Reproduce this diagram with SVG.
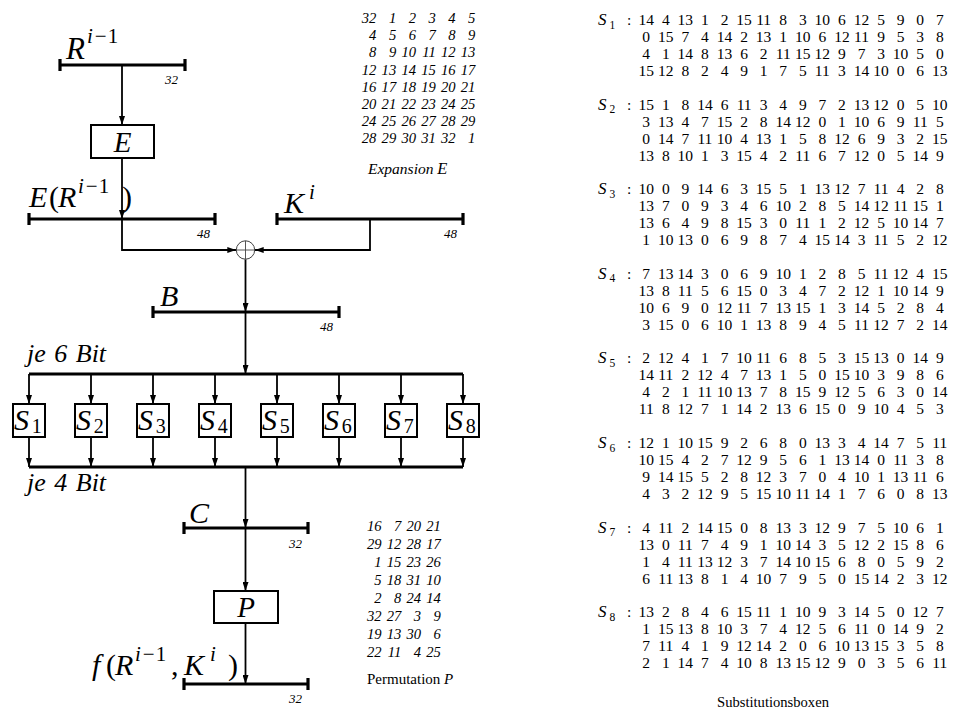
<svg xmlns="http://www.w3.org/2000/svg" width="956" height="711" viewBox="0 0 956 711">
<style>
.bus{stroke:#000;stroke-width:3.2;fill:none}
.ln{stroke:#000;stroke-width:1.8;fill:none}
.box{fill:#fff;stroke:#000;stroke-width:2}
.mi{font-family:"Liberation Serif",serif;font-style:italic}
.mr{font-family:"Liberation Serif",serif;font-style:normal}
.lbl{font-family:"Liberation Serif",serif;font-style:italic;font-size:13px;text-anchor:end}
.sb{font-family:"Liberation Serif",serif;font-size:15.5px;text-anchor:middle}
.tb{font-family:"Liberation Serif",serif;font-style:italic;font-size:14.6px;text-anchor:end}
</style>
<defs>
<marker id="ah" markerUnits="userSpaceOnUse" markerWidth="9" markerHeight="6" viewBox="0 0 9 6" refX="9" refY="3" orient="auto"><path d="M0,0 L9,3 L0,6 z" fill="#000"/></marker>
</defs>
<rect width="956" height="711" fill="#fff"/>

<g id="connectors" class="ln" marker-end="url(#ah)">
<path d="M122,65 V125"/>
<path d="M122,158 V219"/>
<path d="M122,219 V250 H236.3"/>
<path d="M370,219 V250 H254.7"/>
<path d="M245.5,259.2 V312"/>
<path d="M245.5,312 V374"/>
<path d="M29,374 V404"/><path d="M91,374 V404"/><path d="M153,374 V404"/><path d="M215,374 V404"/>
<path d="M277,374 V404"/><path d="M339,374 V404"/><path d="M401,374 V404"/><path d="M463,374 V404"/>
<path d="M29,437 V467"/><path d="M91,437 V467"/><path d="M153,437 V467"/><path d="M215,437 V467"/>
<path d="M277,437 V467"/><path d="M339,437 V467"/><path d="M401,437 V467"/><path d="M463,437 V467"/>
<path d="M245.5,467 V528"/>
<path d="M245.5,528 V591"/>
<path d="M245.5,623 V684"/>
</g>

<g id="bus-R">
<path class="bus" d="M60,65 H185 M60,59 V71 M185,59 V71"/>
<text class="mi" font-size="31" x="66" y="59">R</text>
<text font-size="21" y="43"><tspan class="mi" x="87">i</tspan><tspan class="mr" dx="2">−</tspan><tspan class="mr" dx="1">1</tspan></text>
<text class="lbl" x="178" y="84">32</text>
</g>

<g id="node-E">
<rect class="box" x="91" y="125" width="63" height="33"/>
<text class="mi" font-size="29" x="122.5" y="151.5" text-anchor="middle">E</text>
</g>

<g id="bus-ER">
<path class="bus" d="M29,219 H215 M29,213 V225 M215,213 V225"/>
<text class="mi" font-size="30" x="29" y="207">E</text>
<text class="mr" font-size="30" x="49" y="207">(</text>
<text class="mi" font-size="30" x="58" y="207">R</text>
<text font-size="21" y="193"><tspan class="mi" x="78">i</tspan><tspan class="mr" dx="2">−</tspan><tspan class="mr" dx="1">1</tspan></text>
<text class="mr" font-size="30" x="122" y="207">)</text>
<text class="lbl" x="210" y="238">48</text>
</g>

<g id="bus-K">
<path class="bus" d="M277,219 H463 M277,213 V225 M463,213 V225"/>
<text class="mi" font-size="30" x="284" y="213">K</text>
<text class="mi" font-size="21" x="309" y="199">i</text>
<text class="lbl" x="457" y="238">48</text>
</g>

<g id="node-xor">
<circle cx="245.5" cy="250" r="9.2" fill="#fff" stroke="#444" stroke-width="1"/>
<path d="M236.3,250 H254.7 M245.5,240.8 V259.2" stroke="#444" stroke-width="0.9"/>
</g>

<g id="bus-B">
<path class="bus" d="M153,312 H339 M153,306 V318 M339,306 V318"/>
<text class="mi" font-size="30" x="160" y="306">B</text>
<text class="lbl" x="333" y="331">48</text>
</g>

<g id="bus-6bit">
<path class="bus" d="M29,374 H463"/>
<text class="mi" font-size="26" x="27" y="362" word-spacing="2">je 6 Bit</text>
</g>

<g id="node-S1"><rect class="box" x="13" y="404" width="32" height="33"/><text class="mi" font-size="30" x="14" y="430">S</text><text class="mr" font-size="20" x="31.7" y="433">1</text></g>
<g id="node-S2"><rect class="box" x="75" y="404" width="32" height="33"/><text class="mi" font-size="30" x="76" y="430">S</text><text class="mr" font-size="20" x="93.7" y="433">2</text></g>
<g id="node-S3"><rect class="box" x="137" y="404" width="32" height="33"/><text class="mi" font-size="30" x="138" y="430">S</text><text class="mr" font-size="20" x="155.7" y="433">3</text></g>
<g id="node-S4"><rect class="box" x="199" y="404" width="32" height="33"/><text class="mi" font-size="30" x="200" y="430">S</text><text class="mr" font-size="20" x="217.7" y="433">4</text></g>
<g id="node-S5"><rect class="box" x="261" y="404" width="32" height="33"/><text class="mi" font-size="30" x="262" y="430">S</text><text class="mr" font-size="20" x="279.7" y="433">5</text></g>
<g id="node-S6"><rect class="box" x="323" y="404" width="32" height="33"/><text class="mi" font-size="30" x="324" y="430">S</text><text class="mr" font-size="20" x="341.7" y="433">6</text></g>
<g id="node-S7"><rect class="box" x="385" y="404" width="32" height="33"/><text class="mi" font-size="30" x="386" y="430">S</text><text class="mr" font-size="20" x="403.7" y="433">7</text></g>
<g id="node-S8"><rect class="box" x="447" y="404" width="32" height="33"/><text class="mi" font-size="30" x="448" y="430">S</text><text class="mr" font-size="20" x="465.7" y="433">8</text></g>

<g id="bus-4bit">
<path class="bus" d="M29,467 H463"/>
<text class="mi" font-size="26" x="27" y="491" word-spacing="2">je 4 Bit</text>
</g>

<g id="bus-C">
<path class="bus" d="M184,528 H308 M184,522 V534 M308,522 V534"/>
<text class="mi" font-size="30" x="189" y="523">C</text>
<text class="lbl" x="302" y="548">32</text>
</g>

<g id="node-P">
<rect class="box" x="214" y="591" width="64" height="32"/>
<text class="mi" font-size="29" x="246" y="616.5" text-anchor="middle">P</text>
</g>

<g id="bus-f">
<path class="bus" d="M184,684 H308 M184,678 V690 M308,678 V690"/>
<text class="mi" font-size="30" x="92" y="675">f</text>
<text class="mr" font-size="30" x="106" y="675">(</text>
<text class="mi" font-size="30" x="115" y="675">R</text>
<text font-size="21" y="661"><tspan class="mi" x="135">i</tspan><tspan class="mr" dx="2">−</tspan><tspan class="mr" dx="1">1</tspan></text>
<text class="mr" font-size="30" x="171" y="675">,</text>
<text class="mi" font-size="30" x="184" y="675">K</text>
<text class="mi" font-size="21" x="210" y="661">i</text>
<text class="mr" font-size="30" x="228" y="675">)</text>
<text class="lbl" x="302" y="703">32</text>
</g>

<g id="table-expansion" class="tb">
<text y="23"><tspan x="376.4">32</tspan><tspan x="396.2">1</tspan><tspan x="416">2</tspan><tspan x="435.8">3</tspan><tspan x="455.6">4</tspan><tspan x="475.4">5</tspan></text>
<text y="40.2"><tspan x="376.4">4</tspan><tspan x="396.2">5</tspan><tspan x="416">6</tspan><tspan x="435.8">7</tspan><tspan x="455.6">8</tspan><tspan x="475.4">9</tspan></text>
<text y="57.4"><tspan x="376.4">8</tspan><tspan x="396.2">9</tspan><tspan x="416">10</tspan><tspan x="435.8">11</tspan><tspan x="455.6">12</tspan><tspan x="475.4">13</tspan></text>
<text y="74.6"><tspan x="376.4">12</tspan><tspan x="396.2">13</tspan><tspan x="416">14</tspan><tspan x="435.8">15</tspan><tspan x="455.6">16</tspan><tspan x="475.4">17</tspan></text>
<text y="91.8"><tspan x="376.4">16</tspan><tspan x="396.2">17</tspan><tspan x="416">18</tspan><tspan x="435.8">19</tspan><tspan x="455.6">20</tspan><tspan x="475.4">21</tspan></text>
<text y="109"><tspan x="376.4">20</tspan><tspan x="396.2">21</tspan><tspan x="416">22</tspan><tspan x="435.8">23</tspan><tspan x="455.6">24</tspan><tspan x="475.4">25</tspan></text>
<text y="126.2"><tspan x="376.4">24</tspan><tspan x="396.2">25</tspan><tspan x="416">26</tspan><tspan x="435.8">27</tspan><tspan x="455.6">28</tspan><tspan x="475.4">29</tspan></text>
<text y="143.4"><tspan x="376.4">28</tspan><tspan x="396.2">29</tspan><tspan x="416">30</tspan><tspan x="435.8">31</tspan><tspan x="455.6">32</tspan><tspan x="475.4">1</tspan></text>
<text class="mi" x="368" y="174" font-size="15.5" text-anchor="start">Expansion <tspan font-size="16.5">E</tspan></text>
</g>

<g id="table-permutation" class="tb">
<text y="531"><tspan x="381.5">16</tspan><tspan x="401.3">7</tspan><tspan x="421.1">20</tspan><tspan x="440.9">21</tspan></text>
<text y="549"><tspan x="381.5">29</tspan><tspan x="401.3">12</tspan><tspan x="421.1">28</tspan><tspan x="440.9">17</tspan></text>
<text y="567"><tspan x="381.5">1</tspan><tspan x="401.3">15</tspan><tspan x="421.1">23</tspan><tspan x="440.9">26</tspan></text>
<text y="585"><tspan x="381.5">5</tspan><tspan x="401.3">18</tspan><tspan x="421.1">31</tspan><tspan x="440.9">10</tspan></text>
<text y="603"><tspan x="381.5">2</tspan><tspan x="401.3">8</tspan><tspan x="421.1">24</tspan><tspan x="440.9">14</tspan></text>
<text y="621"><tspan x="381.5">32</tspan><tspan x="401.3">27</tspan><tspan x="421.1">3</tspan><tspan x="440.9">9</tspan></text>
<text y="639"><tspan x="381.5">19</tspan><tspan x="401.3">13</tspan><tspan x="421.1">30</tspan><tspan x="440.9">6</tspan></text>
<text y="657"><tspan x="381.5">22</tspan><tspan x="401.3">11</tspan><tspan x="421.1">4</tspan><tspan x="440.9">25</tspan></text>
<text class="mr" x="367" y="684" font-size="15" text-anchor="start">Permutation <tspan class="mi">P</tspan></text>
</g>

<g id="sbox-1" class="sb">
<text class="mi" x="598" y="25" font-size="17" text-anchor="start">S</text><text x="609.5" y="28.5" font-size="11.5" text-anchor="start">1</text><text x="627" y="25" text-anchor="start">:</text>
<text y="25"><tspan x="646.2">14</tspan><tspan x="665.8">4</tspan><tspan x="685.3">13</tspan><tspan x="704.9">1</tspan><tspan x="724.5">2</tspan><tspan x="744.1">15</tspan><tspan x="763.6">11</tspan><tspan x="783.2">8</tspan><tspan x="802.8">3</tspan><tspan x="822.3">10</tspan><tspan x="841.9">6</tspan><tspan x="861.5">12</tspan><tspan x="881">5</tspan><tspan x="900.6">9</tspan><tspan x="920.2">0</tspan><tspan x="939.8">7</tspan></text>
<text y="42"><tspan x="646.2">0</tspan><tspan x="665.8">15</tspan><tspan x="685.3">7</tspan><tspan x="704.9">4</tspan><tspan x="724.5">14</tspan><tspan x="744.1">2</tspan><tspan x="763.6">13</tspan><tspan x="783.2">1</tspan><tspan x="802.8">10</tspan><tspan x="822.3">6</tspan><tspan x="841.9">12</tspan><tspan x="861.5">11</tspan><tspan x="881">9</tspan><tspan x="900.6">5</tspan><tspan x="920.2">3</tspan><tspan x="939.8">8</tspan></text>
<text y="59"><tspan x="646.2">4</tspan><tspan x="665.8">1</tspan><tspan x="685.3">14</tspan><tspan x="704.9">8</tspan><tspan x="724.5">13</tspan><tspan x="744.1">6</tspan><tspan x="763.6">2</tspan><tspan x="783.2">11</tspan><tspan x="802.8">15</tspan><tspan x="822.3">12</tspan><tspan x="841.9">9</tspan><tspan x="861.5">7</tspan><tspan x="881">3</tspan><tspan x="900.6">10</tspan><tspan x="920.2">5</tspan><tspan x="939.8">0</tspan></text>
<text y="76"><tspan x="646.2">15</tspan><tspan x="665.8">12</tspan><tspan x="685.3">8</tspan><tspan x="704.9">2</tspan><tspan x="724.5">4</tspan><tspan x="744.1">9</tspan><tspan x="763.6">1</tspan><tspan x="783.2">7</tspan><tspan x="802.8">5</tspan><tspan x="822.3">11</tspan><tspan x="841.9">3</tspan><tspan x="861.5">14</tspan><tspan x="881">10</tspan><tspan x="900.6">0</tspan><tspan x="920.2">6</tspan><tspan x="939.8">13</tspan></text>
</g>

<g id="sbox-2" class="sb" transform="translate(0,84.6)">
<text class="mi" x="598" y="25" font-size="17" text-anchor="start">S</text><text x="609.5" y="28.5" font-size="11.5" text-anchor="start">2</text><text x="627" y="25" text-anchor="start">:</text>
<text y="25"><tspan x="646.2">15</tspan><tspan x="665.8">1</tspan><tspan x="685.3">8</tspan><tspan x="704.9">14</tspan><tspan x="724.5">6</tspan><tspan x="744.1">11</tspan><tspan x="763.6">3</tspan><tspan x="783.2">4</tspan><tspan x="802.8">9</tspan><tspan x="822.3">7</tspan><tspan x="841.9">2</tspan><tspan x="861.5">13</tspan><tspan x="881">12</tspan><tspan x="900.6">0</tspan><tspan x="920.2">5</tspan><tspan x="939.8">10</tspan></text>
<text y="42"><tspan x="646.2">3</tspan><tspan x="665.8">13</tspan><tspan x="685.3">4</tspan><tspan x="704.9">7</tspan><tspan x="724.5">15</tspan><tspan x="744.1">2</tspan><tspan x="763.6">8</tspan><tspan x="783.2">14</tspan><tspan x="802.8">12</tspan><tspan x="822.3">0</tspan><tspan x="841.9">1</tspan><tspan x="861.5">10</tspan><tspan x="881">6</tspan><tspan x="900.6">9</tspan><tspan x="920.2">11</tspan><tspan x="939.8">5</tspan></text>
<text y="59"><tspan x="646.2">0</tspan><tspan x="665.8">14</tspan><tspan x="685.3">7</tspan><tspan x="704.9">11</tspan><tspan x="724.5">10</tspan><tspan x="744.1">4</tspan><tspan x="763.6">13</tspan><tspan x="783.2">1</tspan><tspan x="802.8">5</tspan><tspan x="822.3">8</tspan><tspan x="841.9">12</tspan><tspan x="861.5">6</tspan><tspan x="881">9</tspan><tspan x="900.6">3</tspan><tspan x="920.2">2</tspan><tspan x="939.8">15</tspan></text>
<text y="76"><tspan x="646.2">13</tspan><tspan x="665.8">8</tspan><tspan x="685.3">10</tspan><tspan x="704.9">1</tspan><tspan x="724.5">3</tspan><tspan x="744.1">15</tspan><tspan x="763.6">4</tspan><tspan x="783.2">2</tspan><tspan x="802.8">11</tspan><tspan x="822.3">6</tspan><tspan x="841.9">7</tspan><tspan x="861.5">12</tspan><tspan x="881">0</tspan><tspan x="900.6">5</tspan><tspan x="920.2">14</tspan><tspan x="939.8">9</tspan></text>
</g>

<g id="sbox-3" class="sb" transform="translate(0,169.2)">
<text class="mi" x="598" y="25" font-size="17" text-anchor="start">S</text><text x="609.5" y="28.5" font-size="11.5" text-anchor="start">3</text><text x="627" y="25" text-anchor="start">:</text>
<text y="25"><tspan x="646.2">10</tspan><tspan x="665.8">0</tspan><tspan x="685.3">9</tspan><tspan x="704.9">14</tspan><tspan x="724.5">6</tspan><tspan x="744.1">3</tspan><tspan x="763.6">15</tspan><tspan x="783.2">5</tspan><tspan x="802.8">1</tspan><tspan x="822.3">13</tspan><tspan x="841.9">12</tspan><tspan x="861.5">7</tspan><tspan x="881">11</tspan><tspan x="900.6">4</tspan><tspan x="920.2">2</tspan><tspan x="939.8">8</tspan></text>
<text y="42"><tspan x="646.2">13</tspan><tspan x="665.8">7</tspan><tspan x="685.3">0</tspan><tspan x="704.9">9</tspan><tspan x="724.5">3</tspan><tspan x="744.1">4</tspan><tspan x="763.6">6</tspan><tspan x="783.2">10</tspan><tspan x="802.8">2</tspan><tspan x="822.3">8</tspan><tspan x="841.9">5</tspan><tspan x="861.5">14</tspan><tspan x="881">12</tspan><tspan x="900.6">11</tspan><tspan x="920.2">15</tspan><tspan x="939.8">1</tspan></text>
<text y="59"><tspan x="646.2">13</tspan><tspan x="665.8">6</tspan><tspan x="685.3">4</tspan><tspan x="704.9">9</tspan><tspan x="724.5">8</tspan><tspan x="744.1">15</tspan><tspan x="763.6">3</tspan><tspan x="783.2">0</tspan><tspan x="802.8">11</tspan><tspan x="822.3">1</tspan><tspan x="841.9">2</tspan><tspan x="861.5">12</tspan><tspan x="881">5</tspan><tspan x="900.6">10</tspan><tspan x="920.2">14</tspan><tspan x="939.8">7</tspan></text>
<text y="76"><tspan x="646.2">1</tspan><tspan x="665.8">10</tspan><tspan x="685.3">13</tspan><tspan x="704.9">0</tspan><tspan x="724.5">6</tspan><tspan x="744.1">9</tspan><tspan x="763.6">8</tspan><tspan x="783.2">7</tspan><tspan x="802.8">4</tspan><tspan x="822.3">15</tspan><tspan x="841.9">14</tspan><tspan x="861.5">3</tspan><tspan x="881">11</tspan><tspan x="900.6">5</tspan><tspan x="920.2">2</tspan><tspan x="939.8">12</tspan></text>
</g>

<g id="sbox-4" class="sb" transform="translate(0,253.8)">
<text class="mi" x="598" y="25" font-size="17" text-anchor="start">S</text><text x="609.5" y="28.5" font-size="11.5" text-anchor="start">4</text><text x="627" y="25" text-anchor="start">:</text>
<text y="25"><tspan x="646.2">7</tspan><tspan x="665.8">13</tspan><tspan x="685.3">14</tspan><tspan x="704.9">3</tspan><tspan x="724.5">0</tspan><tspan x="744.1">6</tspan><tspan x="763.6">9</tspan><tspan x="783.2">10</tspan><tspan x="802.8">1</tspan><tspan x="822.3">2</tspan><tspan x="841.9">8</tspan><tspan x="861.5">5</tspan><tspan x="881">11</tspan><tspan x="900.6">12</tspan><tspan x="920.2">4</tspan><tspan x="939.8">15</tspan></text>
<text y="42"><tspan x="646.2">13</tspan><tspan x="665.8">8</tspan><tspan x="685.3">11</tspan><tspan x="704.9">5</tspan><tspan x="724.5">6</tspan><tspan x="744.1">15</tspan><tspan x="763.6">0</tspan><tspan x="783.2">3</tspan><tspan x="802.8">4</tspan><tspan x="822.3">7</tspan><tspan x="841.9">2</tspan><tspan x="861.5">12</tspan><tspan x="881">1</tspan><tspan x="900.6">10</tspan><tspan x="920.2">14</tspan><tspan x="939.8">9</tspan></text>
<text y="59"><tspan x="646.2">10</tspan><tspan x="665.8">6</tspan><tspan x="685.3">9</tspan><tspan x="704.9">0</tspan><tspan x="724.5">12</tspan><tspan x="744.1">11</tspan><tspan x="763.6">7</tspan><tspan x="783.2">13</tspan><tspan x="802.8">15</tspan><tspan x="822.3">1</tspan><tspan x="841.9">3</tspan><tspan x="861.5">14</tspan><tspan x="881">5</tspan><tspan x="900.6">2</tspan><tspan x="920.2">8</tspan><tspan x="939.8">4</tspan></text>
<text y="76"><tspan x="646.2">3</tspan><tspan x="665.8">15</tspan><tspan x="685.3">0</tspan><tspan x="704.9">6</tspan><tspan x="724.5">10</tspan><tspan x="744.1">1</tspan><tspan x="763.6">13</tspan><tspan x="783.2">8</tspan><tspan x="802.8">9</tspan><tspan x="822.3">4</tspan><tspan x="841.9">5</tspan><tspan x="861.5">11</tspan><tspan x="881">12</tspan><tspan x="900.6">7</tspan><tspan x="920.2">2</tspan><tspan x="939.8">14</tspan></text>
</g>

<g id="sbox-5" class="sb" transform="translate(0,338.4)">
<text class="mi" x="598" y="25" font-size="17" text-anchor="start">S</text><text x="609.5" y="28.5" font-size="11.5" text-anchor="start">5</text><text x="627" y="25" text-anchor="start">:</text>
<text y="25"><tspan x="646.2">2</tspan><tspan x="665.8">12</tspan><tspan x="685.3">4</tspan><tspan x="704.9">1</tspan><tspan x="724.5">7</tspan><tspan x="744.1">10</tspan><tspan x="763.6">11</tspan><tspan x="783.2">6</tspan><tspan x="802.8">8</tspan><tspan x="822.3">5</tspan><tspan x="841.9">3</tspan><tspan x="861.5">15</tspan><tspan x="881">13</tspan><tspan x="900.6">0</tspan><tspan x="920.2">14</tspan><tspan x="939.8">9</tspan></text>
<text y="42"><tspan x="646.2">14</tspan><tspan x="665.8">11</tspan><tspan x="685.3">2</tspan><tspan x="704.9">12</tspan><tspan x="724.5">4</tspan><tspan x="744.1">7</tspan><tspan x="763.6">13</tspan><tspan x="783.2">1</tspan><tspan x="802.8">5</tspan><tspan x="822.3">0</tspan><tspan x="841.9">15</tspan><tspan x="861.5">10</tspan><tspan x="881">3</tspan><tspan x="900.6">9</tspan><tspan x="920.2">8</tspan><tspan x="939.8">6</tspan></text>
<text y="59"><tspan x="646.2">4</tspan><tspan x="665.8">2</tspan><tspan x="685.3">1</tspan><tspan x="704.9">11</tspan><tspan x="724.5">10</tspan><tspan x="744.1">13</tspan><tspan x="763.6">7</tspan><tspan x="783.2">8</tspan><tspan x="802.8">15</tspan><tspan x="822.3">9</tspan><tspan x="841.9">12</tspan><tspan x="861.5">5</tspan><tspan x="881">6</tspan><tspan x="900.6">3</tspan><tspan x="920.2">0</tspan><tspan x="939.8">14</tspan></text>
<text y="76"><tspan x="646.2">11</tspan><tspan x="665.8">8</tspan><tspan x="685.3">12</tspan><tspan x="704.9">7</tspan><tspan x="724.5">1</tspan><tspan x="744.1">14</tspan><tspan x="763.6">2</tspan><tspan x="783.2">13</tspan><tspan x="802.8">6</tspan><tspan x="822.3">15</tspan><tspan x="841.9">0</tspan><tspan x="861.5">9</tspan><tspan x="881">10</tspan><tspan x="900.6">4</tspan><tspan x="920.2">5</tspan><tspan x="939.8">3</tspan></text>
</g>

<g id="sbox-6" class="sb" transform="translate(0,423)">
<text class="mi" x="598" y="25" font-size="17" text-anchor="start">S</text><text x="609.5" y="28.5" font-size="11.5" text-anchor="start">6</text><text x="627" y="25" text-anchor="start">:</text>
<text y="25"><tspan x="646.2">12</tspan><tspan x="665.8">1</tspan><tspan x="685.3">10</tspan><tspan x="704.9">15</tspan><tspan x="724.5">9</tspan><tspan x="744.1">2</tspan><tspan x="763.6">6</tspan><tspan x="783.2">8</tspan><tspan x="802.8">0</tspan><tspan x="822.3">13</tspan><tspan x="841.9">3</tspan><tspan x="861.5">4</tspan><tspan x="881">14</tspan><tspan x="900.6">7</tspan><tspan x="920.2">5</tspan><tspan x="939.8">11</tspan></text>
<text y="42"><tspan x="646.2">10</tspan><tspan x="665.8">15</tspan><tspan x="685.3">4</tspan><tspan x="704.9">2</tspan><tspan x="724.5">7</tspan><tspan x="744.1">12</tspan><tspan x="763.6">9</tspan><tspan x="783.2">5</tspan><tspan x="802.8">6</tspan><tspan x="822.3">1</tspan><tspan x="841.9">13</tspan><tspan x="861.5">14</tspan><tspan x="881">0</tspan><tspan x="900.6">11</tspan><tspan x="920.2">3</tspan><tspan x="939.8">8</tspan></text>
<text y="59"><tspan x="646.2">9</tspan><tspan x="665.8">14</tspan><tspan x="685.3">15</tspan><tspan x="704.9">5</tspan><tspan x="724.5">2</tspan><tspan x="744.1">8</tspan><tspan x="763.6">12</tspan><tspan x="783.2">3</tspan><tspan x="802.8">7</tspan><tspan x="822.3">0</tspan><tspan x="841.9">4</tspan><tspan x="861.5">10</tspan><tspan x="881">1</tspan><tspan x="900.6">13</tspan><tspan x="920.2">11</tspan><tspan x="939.8">6</tspan></text>
<text y="76"><tspan x="646.2">4</tspan><tspan x="665.8">3</tspan><tspan x="685.3">2</tspan><tspan x="704.9">12</tspan><tspan x="724.5">9</tspan><tspan x="744.1">5</tspan><tspan x="763.6">15</tspan><tspan x="783.2">10</tspan><tspan x="802.8">11</tspan><tspan x="822.3">14</tspan><tspan x="841.9">1</tspan><tspan x="861.5">7</tspan><tspan x="881">6</tspan><tspan x="900.6">0</tspan><tspan x="920.2">8</tspan><tspan x="939.8">13</tspan></text>
</g>

<g id="sbox-7" class="sb" transform="translate(0,507.6)">
<text class="mi" x="598" y="25" font-size="17" text-anchor="start">S</text><text x="609.5" y="28.5" font-size="11.5" text-anchor="start">7</text><text x="627" y="25" text-anchor="start">:</text>
<text y="25"><tspan x="646.2">4</tspan><tspan x="665.8">11</tspan><tspan x="685.3">2</tspan><tspan x="704.9">14</tspan><tspan x="724.5">15</tspan><tspan x="744.1">0</tspan><tspan x="763.6">8</tspan><tspan x="783.2">13</tspan><tspan x="802.8">3</tspan><tspan x="822.3">12</tspan><tspan x="841.9">9</tspan><tspan x="861.5">7</tspan><tspan x="881">5</tspan><tspan x="900.6">10</tspan><tspan x="920.2">6</tspan><tspan x="939.8">1</tspan></text>
<text y="42"><tspan x="646.2">13</tspan><tspan x="665.8">0</tspan><tspan x="685.3">11</tspan><tspan x="704.9">7</tspan><tspan x="724.5">4</tspan><tspan x="744.1">9</tspan><tspan x="763.6">1</tspan><tspan x="783.2">10</tspan><tspan x="802.8">14</tspan><tspan x="822.3">3</tspan><tspan x="841.9">5</tspan><tspan x="861.5">12</tspan><tspan x="881">2</tspan><tspan x="900.6">15</tspan><tspan x="920.2">8</tspan><tspan x="939.8">6</tspan></text>
<text y="59"><tspan x="646.2">1</tspan><tspan x="665.8">4</tspan><tspan x="685.3">11</tspan><tspan x="704.9">13</tspan><tspan x="724.5">12</tspan><tspan x="744.1">3</tspan><tspan x="763.6">7</tspan><tspan x="783.2">14</tspan><tspan x="802.8">10</tspan><tspan x="822.3">15</tspan><tspan x="841.9">6</tspan><tspan x="861.5">8</tspan><tspan x="881">0</tspan><tspan x="900.6">5</tspan><tspan x="920.2">9</tspan><tspan x="939.8">2</tspan></text>
<text y="76"><tspan x="646.2">6</tspan><tspan x="665.8">11</tspan><tspan x="685.3">13</tspan><tspan x="704.9">8</tspan><tspan x="724.5">1</tspan><tspan x="744.1">4</tspan><tspan x="763.6">10</tspan><tspan x="783.2">7</tspan><tspan x="802.8">9</tspan><tspan x="822.3">5</tspan><tspan x="841.9">0</tspan><tspan x="861.5">15</tspan><tspan x="881">14</tspan><tspan x="900.6">2</tspan><tspan x="920.2">3</tspan><tspan x="939.8">12</tspan></text>
</g>

<g id="sbox-8" class="sb" transform="translate(0,592.2)">
<text class="mi" x="598" y="25" font-size="17" text-anchor="start">S</text><text x="609.5" y="28.5" font-size="11.5" text-anchor="start">8</text><text x="627" y="25" text-anchor="start">:</text>
<text y="25"><tspan x="646.2">13</tspan><tspan x="665.8">2</tspan><tspan x="685.3">8</tspan><tspan x="704.9">4</tspan><tspan x="724.5">6</tspan><tspan x="744.1">15</tspan><tspan x="763.6">11</tspan><tspan x="783.2">1</tspan><tspan x="802.8">10</tspan><tspan x="822.3">9</tspan><tspan x="841.9">3</tspan><tspan x="861.5">14</tspan><tspan x="881">5</tspan><tspan x="900.6">0</tspan><tspan x="920.2">12</tspan><tspan x="939.8">7</tspan></text>
<text y="42"><tspan x="646.2">1</tspan><tspan x="665.8">15</tspan><tspan x="685.3">13</tspan><tspan x="704.9">8</tspan><tspan x="724.5">10</tspan><tspan x="744.1">3</tspan><tspan x="763.6">7</tspan><tspan x="783.2">4</tspan><tspan x="802.8">12</tspan><tspan x="822.3">5</tspan><tspan x="841.9">6</tspan><tspan x="861.5">11</tspan><tspan x="881">0</tspan><tspan x="900.6">14</tspan><tspan x="920.2">9</tspan><tspan x="939.8">2</tspan></text>
<text y="59"><tspan x="646.2">7</tspan><tspan x="665.8">11</tspan><tspan x="685.3">4</tspan><tspan x="704.9">1</tspan><tspan x="724.5">9</tspan><tspan x="744.1">12</tspan><tspan x="763.6">14</tspan><tspan x="783.2">2</tspan><tspan x="802.8">0</tspan><tspan x="822.3">6</tspan><tspan x="841.9">10</tspan><tspan x="861.5">13</tspan><tspan x="881">15</tspan><tspan x="900.6">3</tspan><tspan x="920.2">5</tspan><tspan x="939.8">8</tspan></text>
<text y="76"><tspan x="646.2">2</tspan><tspan x="665.8">1</tspan><tspan x="685.3">14</tspan><tspan x="704.9">7</tspan><tspan x="724.5">4</tspan><tspan x="744.1">10</tspan><tspan x="763.6">8</tspan><tspan x="783.2">13</tspan><tspan x="802.8">15</tspan><tspan x="822.3">12</tspan><tspan x="841.9">9</tspan><tspan x="861.5">0</tspan><tspan x="881">3</tspan><tspan x="900.6">5</tspan><tspan x="920.2">6</tspan><tspan x="939.8">11</tspan></text>
</g>

<text id="caption-sboxes" class="mr" x="773" y="707" font-size="14.6" text-anchor="middle">Substitutionsboxen</text>
</svg>
